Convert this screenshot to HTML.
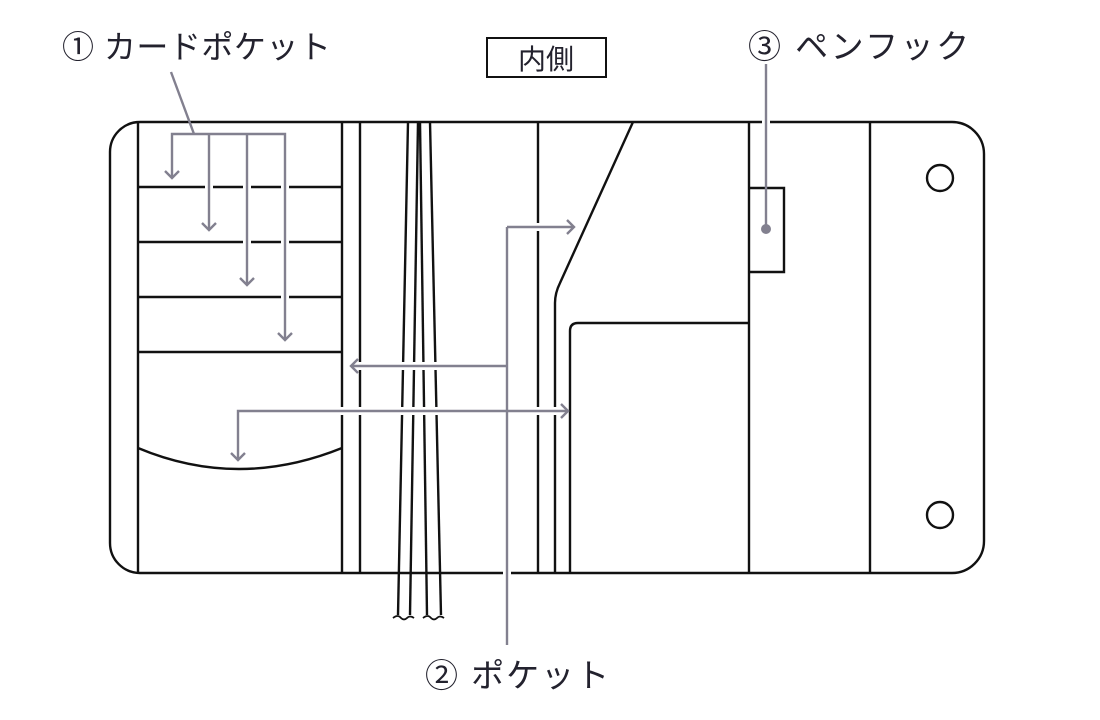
<!DOCTYPE html>
<html><head><meta charset="utf-8"><style>
html,body{margin:0;padding:0;background:#fff;width:1100px;height:720px;overflow:hidden}
svg{display:block}
text{font-family:"Liberation Sans","Noto Sans CJK JP",sans-serif;fill:#23222e}
</style></head><body>
<svg width="1100" height="720" viewBox="0 0 1100 720" xmlns="http://www.w3.org/2000/svg">
<g fill="none" stroke="#111" stroke-width="2.4">
<path d="M140,122 H952 A32,32 0 0 1 984,154 V541 A32,32 0 0 1 952,573 H140 A30,30 0 0 1 110,543 V152 A30,30 0 0 1 140,122 Z"/>
<line x1="138" y1="122" x2="138" y2="573"/>
<line x1="342" y1="122" x2="342" y2="573"/>
<line x1="360" y1="122" x2="360" y2="573"/>
<line x1="138" y1="187" x2="342" y2="187"/>
<line x1="138" y1="242" x2="342" y2="242"/>
<line x1="138" y1="297" x2="342" y2="297"/>
<line x1="138" y1="352" x2="342" y2="352"/>
<path d="M138,448 Q238,490 342,448"/>
<line x1="538" y1="122" x2="538" y2="573"/>
<path d="M633,122 L560,283 Q555,293 555,303 V573"/>
<path d="M570,573 V331 Q570,323 578,323 H749"/>
<line x1="749" y1="122" x2="749" y2="573"/>
<path d="M749,188 H784 V272 H749"/>
<line x1="870" y1="122" x2="870" y2="573"/>
<circle cx="940" cy="178" r="13"/>
<circle cx="940" cy="515" r="13"/>
<line x1="408" y1="122" x2="398" y2="615"/>
<line x1="418" y1="122" x2="410" y2="615"/>
<line x1="420" y1="122" x2="427" y2="615"/>
<line x1="430" y1="122" x2="441" y2="615"/>
<path d="M393,618 q5,-4 8,0 q3,3 6,0 q3,-3 7,0" stroke-width="1.8"/>
<path d="M423,618 q5,-4 8,0 q3,3 6,0 q3,-3 7,0" stroke-width="1.8"/>
</g>
<g fill="none" stroke="#fff" stroke-width="8">
<line x1="209" y1="134" x2="209" y2="228"/>
<line x1="247" y1="134" x2="247" y2="284"/>
<line x1="285" y1="134" x2="285" y2="339"/>
<line x1="350" y1="366" x2="507" y2="366"/>
<line x1="238" y1="411" x2="568" y2="411"/>
<line x1="507" y1="227" x2="507" y2="645"/>
<line x1="507" y1="227" x2="573" y2="227"/>
<line x1="766" y1="64" x2="766" y2="125"/>
</g>
<g fill="none" stroke="#82808f" stroke-width="2.4">
<line x1="171" y1="72" x2="194" y2="134"/>
<path d="M172,178 V134 H285 V340"/>
<line x1="209" y1="134" x2="209" y2="230"/>
<line x1="247" y1="134" x2="247" y2="285"/>
<path d="M165,171 L172,178 L179,171"/>
<path d="M202,223 L209,230 L216,223"/>
<path d="M240,278 L247,285 L254,278"/>
<path d="M278,333 L285,340 L292,333"/>
<line x1="507" y1="227" x2="507" y2="645"/>
<line x1="507" y1="227" x2="574" y2="227"/>
<path d="M567,220 L574,227 L567,234"/>
<line x1="351" y1="366" x2="507" y2="366"/>
<path d="M358,359 L351,366 L358,373"/>
<path d="M238,460 V411 H568"/>
<path d="M561,404 L568,411 L561,418"/>
<path d="M231,453 L238,460 L245,453"/>
<line x1="766" y1="64" x2="766" y2="229"/>
</g>
<circle cx="766" cy="229" r="5" fill="#82808f"/>
<text x="62" y="58" font-size="32" letter-spacing="0.5">① カードポケット</text>
<rect x="487" y="38" width="119" height="39" fill="none" stroke="#111" stroke-width="2"/>
<text x="546" y="69" font-size="28" text-anchor="middle">内側</text>
<text x="748" y="58" font-size="33" letter-spacing="2.5">③ ペンフック</text>
<text x="425" y="687" font-size="33" letter-spacing="2">② ポケット</text>
</svg>
</body></html>
